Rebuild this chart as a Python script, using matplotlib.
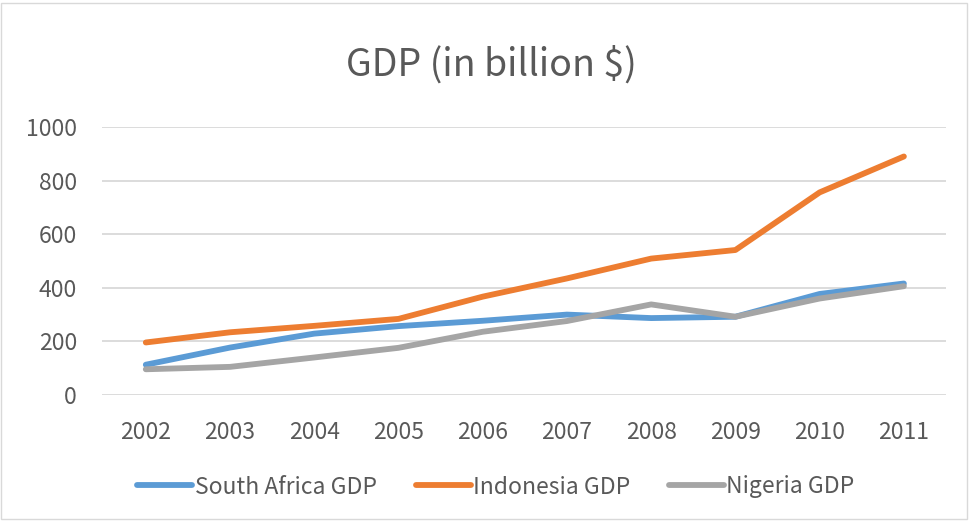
import matplotlib
matplotlib.use("Agg")
import matplotlib.pyplot as plt
from matplotlib.patches import Rectangle

years = ["2002", "2003", "2004", "2005", "2006", "2007", "2008", "2009", "2010", "2011"]
south_africa = [113, 177, 229, 257, 277, 300, 287, 292, 377, 416]
indonesia = [196, 234, 258, 284, 367, 435, 509, 541, 756, 890]
nigeria = [96, 105, 140, 176, 236, 276, 338, 292, 360, 406]
series_names = ["South Africa GDP", "Indonesia GDP", "Nigeria GDP"]
colors = ["#5B9BD5", "#ED7D31", "#A5A5A5"]
yticks = [0, 200, 400, 600, 800, 1000]

plt.rcParams['font.family'] = ['Noto Sans CJK KR', 'DejaVu Sans']
W, H = 971, 522
fig = plt.figure(figsize=(W / 100, H / 100), dpi=100)
ax = fig.add_axes([102 / W, 1 - 395 / H, (946 - 102) / W, (395 - 127) / H])

x = list(range(len(years)))
for vals, name, c in zip([south_africa, indonesia, nigeria], series_names, colors):
    ax.plot(x, vals, color=c, lw=4.2, solid_capstyle='round', label=name)

ax.set_xlim(-0.52, len(years) - 0.5)
ax.set_ylim(0, 1000)
ax.set_yticks(yticks)
ax.set_xticks(x)
ax.set_xticklabels(years)
ax.yaxis.grid(True, color='#D9D9D9', lw=1.3)
ax.set_axisbelow(True)
for s in ax.spines.values():
    s.set_visible(False)
ax.tick_params(axis='both', length=0, labelsize=16.5, labelcolor='#595959')
ax.tick_params(axis='x', pad=19)
ax.tick_params(axis='y', pad=18)

fig.text(491 / W, 1 - 65 / H, "GDP (in billion $)", ha='center', va='center',
         fontsize=27, color='#595959')

leg = fig.legend(loc='center', bbox_to_anchor=(496 / W, 1 - 487 / H), ncol=3,
                 frameon=False, fontsize=16.5, handlelength=2.4, handletextpad=0.1,
                 columnspacing=1.7, labelcolor='#595959')

fig.patches.append(Rectangle((1 / W, 3 / H), (W - 5) / W, (H - 6) / H,
                             transform=fig.transFigure, fill=False,
                             edgecolor='#D9D9D9', lw=1))

fig.savefig("out.png", dpi=100, facecolor='white')
